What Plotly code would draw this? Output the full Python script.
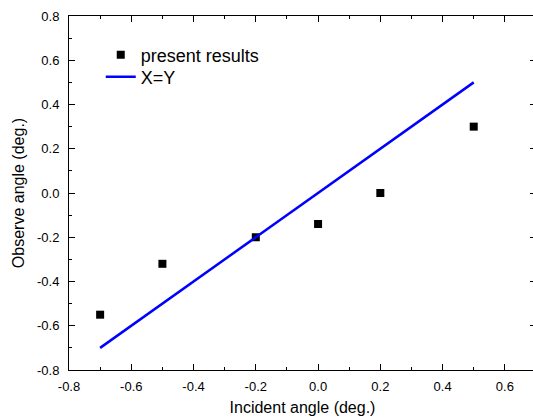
import plotly.graph_objects as go

# Data
incident = [-0.7, -0.5, -0.2, 0.0, 0.2, 0.5]
observed = [-0.55, -0.32, -0.2, -0.14, 0.0, 0.3]
line_x = [-0.7, 0.5]
line_y = [-0.7, 0.5]

x_ticks = [-0.8, -0.6, -0.4, -0.2, 0.0, 0.2, 0.4, 0.6]
y_ticks = [-0.8, -0.6, -0.4, -0.2, 0.0, 0.2, 0.4, 0.6, 0.8]

FONT = "Liberation Sans, Arial, sans-serif"

fig = go.Figure()
fig.add_trace(go.Scatter(
    x=incident, y=observed, mode="markers", name="present results",
    marker=dict(symbol="square", size=8, color="black", line=dict(width=0)),
    legend="legend",
))
fig.add_trace(go.Scatter(
    x=line_x, y=line_y, mode="lines", name="X=Y",
    line=dict(color="#0000ff", width=2.5),
    legend="legend2",
))

axis_common = dict(
    showline=True, linecolor="black", linewidth=1, mirror="allticks",
    ticks="inside", ticklen=6, tickwidth=1, tickcolor="black",
    showgrid=False, zeroline=False,
    tickfont=dict(family=FONT, size=13, color="black"),
    minor=dict(ticks="inside", ticklen=3, tickwidth=1, tickcolor="black", dtick=0.1, showgrid=False),
)

legend_common = dict(
    xanchor="left", yanchor="middle",
    bgcolor="rgba(0,0,0,0)", borderwidth=0,
    font=dict(family=FONT, size=18, color="black"),
    itemwidth=30,
)

fig.update_layout(
    width=537, height=417,
    margin=dict(l=69, r=1, t=16, b=47),
    paper_bgcolor="white", plot_bgcolor="white",
    font=dict(family=FONT, color="black"),
    showlegend=True,
    legend=dict(x=0.068, y=0.8898, **legend_common),
    legend2=dict(x=0.068, y=0.8277, **legend_common),
    xaxis=dict(
        range=[-0.8, 0.7], tickmode="array", tickvals=x_ticks,
        ticktext=[f"{v:.1f}" for v in x_ticks],
        title=dict(text="Incident angle (deg.)", font=dict(family=FONT, size=16), standoff=9),
        ticklabelstandoff=4,
        **axis_common,
    ),
    yaxis=dict(
        range=[-0.8, 0.8], tickmode="array", tickvals=y_ticks,
        ticktext=[f"{v:.1f}" for v in y_ticks],
        title=dict(text="Observe angle (deg.)", font=dict(family=FONT, size=16), standoff=8),
        ticklabelstandoff=6,
        **axis_common,
    ),
)

fig.write_html(
    "out.html",
    post_script="document.documentElement.style.overflow='hidden';document.body.style.overflow='hidden';",
)
